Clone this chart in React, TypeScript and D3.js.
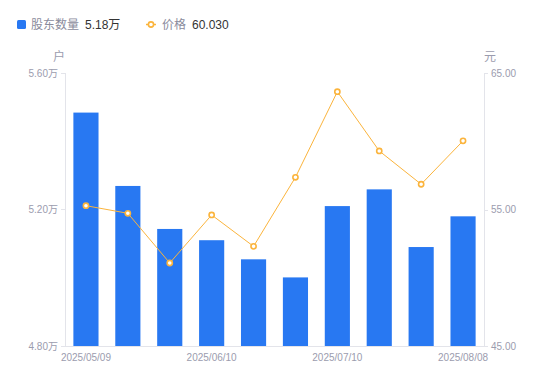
import React from "react";
import * as d3 from "d3";

const categories = [
  "2025/05/09", "2025/05/20", "2025/05/30", "2025/06/10", "2025/06/20",
  "2025/06/30", "2025/07/10", "2025/07/20", "2025/07/31", "2025/08/08",
];
const holders = [5.484, 5.269, 5.143, 5.11, 5.054, 5.001, 5.21, 5.259, 5.09, 5.18];
const prices = [55.28, 54.72, 51.08, 54.6, 52.3, 57.36, 63.63, 59.29, 56.85, 60.03];
const leftTicks = [4.8, 5.2, 5.6];
const rightTicks = [45, 55, 65];
const shownLabels = ["2025/05/09", "2025/06/10", "2025/07/10", "2025/08/08"];

const W = 550, H = 381;
const M = { left: 65, right: 484, top: 73, bottom: 346 };
const FONT = "'Liberation Sans', Arial, 'Noto Sans CJK SC', sans-serif";
const AXIS_TEXT = "#9b9cae";
const AXIS_LINE = "#e3e4ea";
const BLUE = "#2878f2";
const ORANGE = "#fbb43c";

export default function App() {
  const x = d3.scaleBand<string>().domain(categories).range([M.left, M.right]).paddingInner(0.4).paddingOuter(0.2);
  const xc = d3.scaleBand<string>().domain(categories).range([M.left, M.right]);
  const yL = d3.scaleLinear().domain([4.8, 5.6]).range([M.bottom, M.top]);
  const yR = d3.scaleLinear().domain([45, 65]).range([M.bottom, M.top]);
  const line = d3
    .line<number>()
    .x((_, i) => (xc(categories[i]) as number) + xc.bandwidth() / 2)
    .y((d) => yR(d));

  return (
    <svg width={W} height={H} style={{ position: "absolute", left: 0, top: 0 }} fontFamily={FONT}>
      {/* legend */}
      <rect x={17} y={20} width={9} height={9} rx={1.5} fill={BLUE} />
      <text x={31} y={28.5} fontSize={12} fill="#8a8b9c">股东数量</text>
      <text x={85} y={28.5} fontSize={12} fill="#333">5.18万</text>
      <line x1={146} x2={156} y1={24.5} y2={24.5} stroke={ORANGE} strokeWidth={1.5} />
      <circle cx={151} cy={24.5} r={2.6} fill="#fff" stroke={ORANGE} strokeWidth={1.6} />
      <text x={162} y={28.5} fontSize={12} fill="#8a8b9c">价格</text>
      <text x={192} y={28.5} fontSize={12} fill="#333">60.030</text>

      {/* unit labels */}
      <text x={59} y={61} fontSize={12} fill={AXIS_TEXT} textAnchor="middle">户</text>
      <text x={490} y={61} fontSize={12} fill={AXIS_TEXT} textAnchor="middle">元</text>

      {/* axes */}
      <line x1={M.left + 0.5} x2={M.left + 0.5} y1={M.top} y2={M.bottom} stroke={AXIS_LINE} />
      <line x1={M.right + 0.5} x2={M.right + 0.5} y1={M.top} y2={M.bottom} stroke={AXIS_LINE} />
      {leftTicks.map((t) => (
        <g key={"l" + t}>
          <line x1={M.left - 4} x2={M.left} y1={Math.round(yL(t)) + 0.5} y2={Math.round(yL(t)) + 0.5} stroke={AXIS_LINE} />
          <text x={M.left - 7} y={yL(t) + 3.5} fontSize={10} fill={AXIS_TEXT} textAnchor="end">
            {t.toFixed(2) + "万"}
          </text>
        </g>
      ))}
      {rightTicks.map((t) => (
        <g key={"r" + t}>
          <line x1={M.right} x2={M.right + 4} y1={Math.round(yR(t)) + 0.5} y2={Math.round(yR(t)) + 0.5} stroke={AXIS_LINE} />
          <text x={M.right + 7} y={yR(t) + 3.5} fontSize={10} fill={AXIS_TEXT} textAnchor="start">
            {t.toFixed(2)}
          </text>
        </g>
      ))}

      {/* bars */}
      {holders.map((v, i) => (
        <rect
          key={categories[i]}
          x={x(categories[i])}
          y={yL(v)}
          width={x.bandwidth()}
          height={M.bottom - yL(v)}
          fill={BLUE}
        />
      ))}

      <line x1={M.left} x2={M.right + 1} y1={M.bottom + 0.5} y2={M.bottom + 0.5} stroke={AXIS_LINE} />

      {/* x labels */}
      {shownLabels.map((c) => (
        <text
          key={c}
          x={(xc(c) as number) + xc.bandwidth() / 2}
          y={361}
          fontSize={10}
          fill={AXIS_TEXT}
          textAnchor="middle"
        >
          {c}
        </text>
      ))}

      {/* price line */}
      <path d={line(prices) as string} fill="none" stroke={ORANGE} strokeWidth={1} />
      {prices.map((p, i) => (
        <circle
          key={"p" + i}
          cx={(xc(categories[i]) as number) + xc.bandwidth() / 2}
          cy={yR(p)}
          r={2.6}
          fill="#fff"
          stroke={ORANGE}
          strokeWidth={1.6}
        />
      ))}
    </svg>
  );
}
